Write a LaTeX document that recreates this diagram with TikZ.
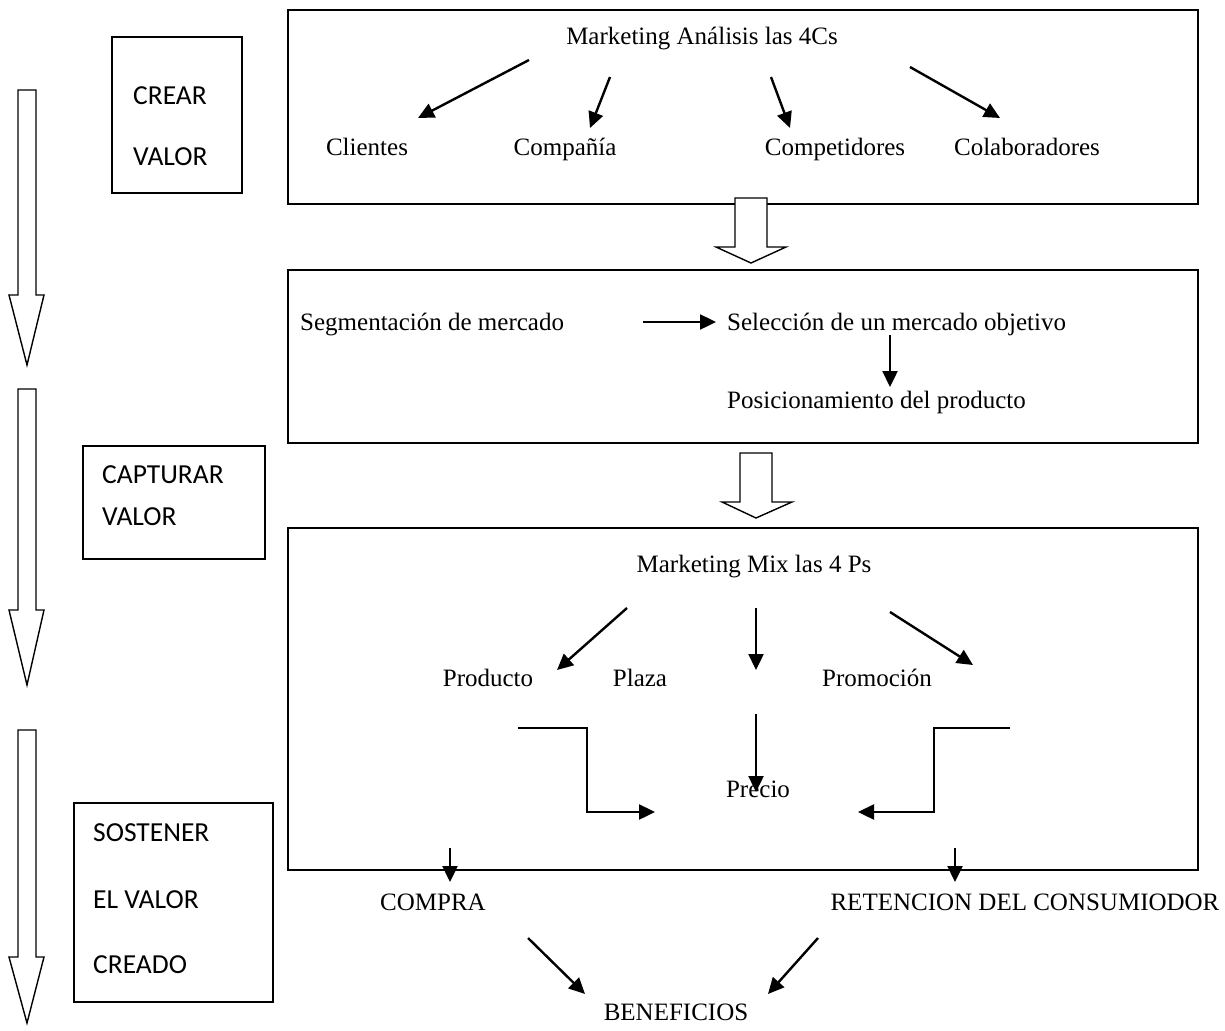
\documentclass[tikz,border=0pt]{standalone}
\usepackage{fontspec}
\setmainfont{Liberation Serif}
\newfontfamily\calfont{Carlito}
\usetikzlibrary{arrows.meta}
\begin{document}
\begin{tikzpicture}[x=1pt,y=-1pt,
  txt/.style={inner sep=0pt,anchor=base,font=\fontsize{25}{30}\selectfont},
  ctxt/.style={inner sep=0pt,anchor=west,font=\calfont\fontsize{27.5}{33}\selectfont},
  box/.style={draw,line width=1.8pt,inner sep=0pt},
  arr/.style={line width=2.4pt,-{Triangle[length=16pt,width=15pt]}},
  block/.style={draw,line width=1.4pt,fill=white,line join=miter}]
\useasboundingbox (0,0) rectangle (1225,1030);

% ---------- left big hollow arrows ----------
\draw[block] (18,90) -- (36,90) -- (36,295) -- (44,295) -- (27,365) -- (9,295) -- (18,295) -- cycle;
\draw[block] (18,389) -- (36,389) -- (36,610) -- (44,610) -- (27,685) -- (9,610) -- (18,610) -- cycle;
\draw[block] (18,730) -- (36,730) -- (36,957) -- (44,957) -- (27,1023) -- (9,957) -- (18,957) -- cycle;

% ---------- left label boxes ----------
\node[box,minimum width=130pt,minimum height=156pt] (crear) at (177,115) {};
\node[ctxt] (crear1) at (133,96) {CREAR};
\node[ctxt] (crear2) at (133,157) {VALOR};

\node[box,minimum width=182pt,minimum height=113pt] (capt) at (174,502.5) {};
\node[ctxt] (capt1) at (102,475) {CAPTURAR};
\node[ctxt] (capt2) at (102,517) {VALOR};

\node[box,minimum width=199pt,minimum height=199pt] (sost) at (173.5,902.5) {};
\node[ctxt] (sost1) at (93,833) {SOSTENER};
\node[ctxt] (sost2) at (93,900) {EL VALOR};
\node[ctxt] (sost3) at (93,965) {CREADO};

% ---------- box 1 : 4Cs ----------
\node[box,minimum width=910pt,minimum height=194pt] (b1) at (743,107) {};
\node[txt] (t1) at (702,45) {Marketing Análisis las 4Cs};
\node[txt] (cli) at (367,155) {Clientes};
\node[txt] (com) at (565,155) {Compañía};
\node[txt] (cmp) at (835,155) {Competidores};
\node[txt] (col) at (1027,155) {Colaboradores};
\coordinate (a1s) at (529,60);  \coordinate (a1e) at (418,118);
\coordinate (a2s) at (610,77);  \coordinate (a2e) at (590,128);
\coordinate (a3s) at (771,77);  \coordinate (a3e) at (790,128);
\coordinate (a4s) at (910,67);  \coordinate (a4e) at (1000,118);
\draw[arr] (a1s) -- (a1e);
\draw[arr] (a2s) -- (a2e);
\draw[arr] (a3s) -- (a3e);
\draw[arr] (a4s) -- (a4e);

% block arrow 1
\draw[block] (735,198) -- (767,198) -- (767,247) -- (786,247) -- (751,263) -- (716,247) -- (735,247) -- cycle;

% ---------- box 2 : STP ----------
\node[box,minimum width=910pt,minimum height=173pt] (b2) at (743,356.5) {};
\node[txt,anchor=base west] (seg) at (300,330) {Segmentación de mercado};
\node[txt,anchor=base west] (sel) at (727,330) {Selección de un mercado objetivo};
\node[txt,anchor=base west] (pos) at (727,408) {Posicionamiento del producto};
\coordinate (s1s) at (643,322); \coordinate (s1e) at (716,322);
\coordinate (s2s) at (890,335); \coordinate (s2e) at (890,387);
\draw[arr] (s1s) -- (s1e);
\draw[arr] (s2s) -- (s2e);

% block arrow 2
\draw[block] (740,453) -- (772,453) -- (772,502) -- (792,502) -- (756,518) -- (722,502) -- (740,502) -- cycle;

% ---------- box 3 : 4Ps ----------
\node[box,minimum width=910pt,minimum height=342pt] (b3) at (743,699) {};
\node[txt] (t3) at (754,572) {Marketing Mix las 4 Ps};
\node[txt] (prod) at (488,686) {Producto};
\node[txt] (plaza) at (640,686) {Plaza};
\node[txt] (promo) at (877,686) {Promoción};
\node[txt] (precio) at (758,797) {Precio};
\coordinate (p1s) at (627,608); \coordinate (p1e) at (557,670);
\coordinate (p2s) at (756,608); \coordinate (p2e) at (756,670);
\coordinate (p3s) at (890,612); \coordinate (p3e) at (973,665);
\draw[arr] (p1s) -- (p1e);
\draw[arr] (p2s) -- (p2e);
\draw[arr] (p3s) -- (p3e);
\coordinate (e1s) at (518,728); \coordinate (e1e) at (655,812);
\coordinate (e2s) at (1010,728); \coordinate (e2e) at (858,812);
\coordinate (e3s) at (756,714); \coordinate (e3e) at (756,792);
\draw[arr,line join=miter] (e1s) -- (587,728) -- (587,812) -- (e1e);
\draw[arr,line join=miter] (e2s) -- (934,728) -- (934,812) -- (e2e);
\draw[arr] (e3s) -- (e3e);

% ---------- outcomes ----------
\node[txt] (compra) at (433,910) {COMPRA};
\node[txt] (ret) at (1025,910) {RETENCION DEL CONSUMIODOR};
\node[txt] (benef) at (676,1020) {BENEFICIOS};
\coordinate (o1s) at (450,848); \coordinate (o1e) at (450,882);
\coordinate (o2s) at (955,848); \coordinate (o2e) at (955,882);
\draw[arr] (o1s) -- (o1e);
\draw[arr] (o2s) -- (o2e);
\coordinate (f1s) at (528,938); \coordinate (f1e) at (585,994);
\coordinate (f2s) at (818,938); \coordinate (f2e) at (768,994);
\draw[arr] (f1s) -- (f1e);
\draw[arr] (f2s) -- (f2e);
\end{tikzpicture}
\end{document}
